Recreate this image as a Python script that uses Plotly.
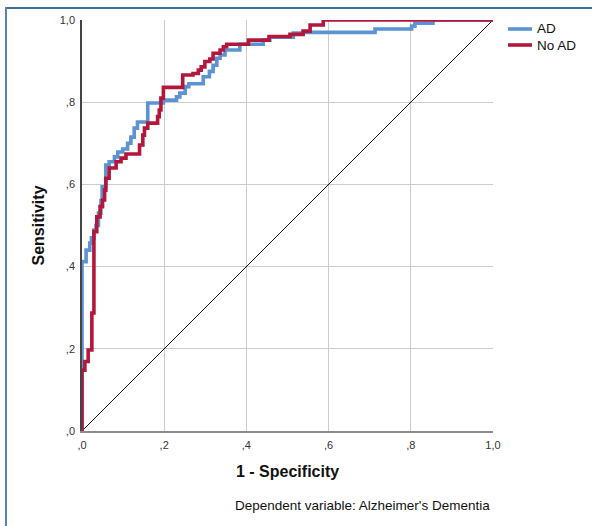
import plotly.graph_objects as go

# ROC step vertices (1 - specificity, sensitivity); drawn with 'hv' steps
ad_fpr = [0, 0, 0.010, 0.019, 0.023, 0.029, 0.034, 0.040, 0.046, 0.049, 0.058, 0.066,
          0.079, 0.087, 0.099, 0.111, 0.119, 0.127, 0.135, 0.160, 0.198, 0.230, 0.238,
          0.251, 0.260, 0.295, 0.310, 0.319, 0.328, 0.336, 0.348, 0.384, 0.441, 0.457,
          0.514, 0.538, 0.713, 0.802, 0.810, 0.854, 1.0]
ad_tpr = [0, 0.412, 0.440, 0.457, 0.470, 0.489, 0.500, 0.530, 0.560, 0.594, 0.647, 0.655,
          0.667, 0.679, 0.686, 0.700, 0.715, 0.737, 0.752, 0.798, 0.805, 0.813, 0.822,
          0.838, 0.845, 0.862, 0.875, 0.890, 0.907, 0.915, 0.927, 0.941, 0.951, 0.958,
          0.968, 0.970, 0.978, 0.985, 0.992, 1.0, 1.0]

noad_fpr = [0, 0, 0.007, 0.015, 0.024, 0.029, 0.036, 0.044, 0.050, 0.055, 0.058, 0.066,
            0.083, 0.095, 0.107, 0.140, 0.148, 0.152, 0.160, 0.184, 0.188, 0.192, 0.198,
            0.245, 0.270, 0.283, 0.290, 0.299, 0.311, 0.319, 0.336, 0.344, 0.352, 0.405,
            0.455, 0.506, 0.538, 0.555, 0.587, 1.0]
noad_tpr = [0, 0.148, 0.169, 0.197, 0.287, 0.485, 0.521, 0.546, 0.562, 0.586, 0.615, 0.640,
            0.655, 0.664, 0.674, 0.696, 0.720, 0.737, 0.749, 0.765, 0.781, 0.810, 0.836,
            0.866, 0.870, 0.878, 0.886, 0.899, 0.905, 0.919, 0.927, 0.935, 0.941, 0.951,
            0.960, 0.965, 0.973, 0.988, 1.0, 1.0]

ref_line = [0, 1]

tick_vals = [0, 0.2, 0.4, 0.6, 0.8, 1.0]
tick_text = [",0", ",2", ",4", ",6", ",8", "1,0"]

series_names = ["AD", "No AD"]
series_colors = ["#5b93d3", "#b3173c"]

fig = go.Figure()
fig.add_trace(go.Scatter(x=ref_line, y=ref_line, mode="lines",
                         line=dict(color="#111111", width=1), showlegend=False,
                         hoverinfo="skip"))
fig.add_trace(go.Scatter(x=ad_fpr, y=ad_tpr, mode="lines", name=series_names[0],
                         line=dict(color=series_colors[0], width=3.6, shape="hv")))
fig.add_trace(go.Scatter(x=noad_fpr, y=noad_tpr, mode="lines", name=series_names[1],
                         line=dict(color=series_colors[1], width=3.6, shape="hv")))

L, R, T, B = 82, 99, 20, 95
W, H = 592, 526
pw, ph = W - L - R, H - T - B

def px_x(p):
    return (p - L) / pw

def px_y(p):
    return (H - B - p) / ph

axis_common = dict(range=[0, 1], tickvals=tick_vals, ticktext=tick_text,
                   showgrid=True, gridcolor="#cccccc", gridwidth=1,
                   zeroline=False, ticks="", automargin=False,
                   tickfont=dict(family="Liberation Sans, Arial", size=11, color="#333333"),
                   fixedrange=True)

fig.update_layout(
    width=W, height=H,
    margin=dict(l=L, r=R, t=T, b=B, autoexpand=False),
    paper_bgcolor="white", plot_bgcolor="white",
    font=dict(family="Liberation Sans, Arial", color="#111111"),
    xaxis=dict(**axis_common, showline=True, linecolor="#8c8c8c", linewidth=1.5,
               ticklabelstandoff=3),
    yaxis=dict(**axis_common, showline=True, linecolor="#444444", linewidth=1.5,
               ticklabelstandoff=3),
    showlegend=False,
)

# legend drawn manually (compact SPSS-style)
legend_rows_y = [29, 45]
for name, color, ry in zip(series_names, series_colors, legend_rows_y):
    fig.add_shape(type="line", xref="paper", yref="paper", x0=px_x(508), x1=px_x(532),
                  y0=px_y(ry), y1=px_y(ry), line=dict(color=color, width=3.6))
    fig.add_annotation(text=name, x=px_x(535), y=px_y(ry), xref="paper", yref="paper",
                       showarrow=False, xanchor="left", yanchor="middle",
                       font=dict(size=13.5, color="#111111"))

fig.add_annotation(text="<b>1 - Specificity</b>", x=0.5, y=px_y(471), xref="paper",
                   yref="paper", showarrow=False, xanchor="center", yanchor="middle",
                   font=dict(size=16, color="#111111"))
fig.add_annotation(text="<b>Sensitivity</b>", x=px_x(38), y=0.5, xref="paper",
                   yref="paper", showarrow=False, xanchor="center", yanchor="middle",
                   textangle=-90, font=dict(size=16, color="#111111"))
fig.add_annotation(text="Dependent variable: Alzheimer's Dementia", x=px_x(362),
                   y=px_y(505), xref="paper", yref="paper", showarrow=False,
                   xanchor="center", yanchor="middle",
                   font=dict(size=13.5, color="#111111"))

# outer frame (top and left border)
fig.add_shape(type="line", xref="paper", yref="paper", x0=px_x(5), x1=px_x(600),
              y0=px_y(8), y1=px_y(8), line=dict(color="#3b6e9e", width=2))
fig.add_shape(type="line", xref="paper", yref="paper", x0=px_x(6), x1=px_x(6),
              y0=px_y(7), y1=px_y(540), line=dict(color="#5585b3", width=2))

fig.write_html("out.html", config={"displayModeBar": False},
               post_script="document.body.style.margin='0';document.body.style.overflow='hidden';")
